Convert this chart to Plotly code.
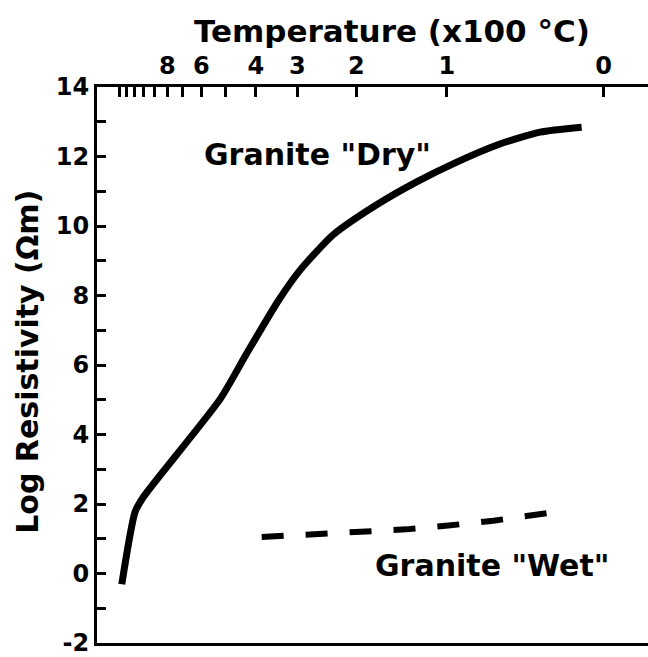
import plotly.graph_objects as go

# Curves; x is inverse temperature 1000/T (T in kelvin)
dry_inv_t = [0.647, 0.730, 0.782, 1.261, 1.428, 1.626, 1.762, 1.970, 2.241, 2.491, 2.742, 3.012, 3.263, 3.523]
dry_log_rho = [-0.31, 1.77, 2.20, 5.01, 6.33, 7.85, 8.73, 9.75, 10.61, 11.27, 11.84, 12.36, 12.70, 12.84]

wet_inv_t = [1.522, 1.862, 2.143, 2.425, 2.690, 2.972, 3.313]
wet_log_rho = [1.05, 1.14, 1.18, 1.27, 1.38, 1.52, 1.74]

# top axis: temperature in hundreds of degrees C
temp_ticks = [0, 1, 2, 3, 4, 5, 6, 7, 8, 9, 10, 11, 12, 13]
temp_labels = ["0", "1", "2", "3", "4", "", "6", "", "8", "", "", "", "", ""]

y_ticks = list(range(-2, 15))
y_labels = [str(v) if v % 2 == 0 else "" for v in y_ticks]

FONT = "DejaVu Sans"


def inv_temp(t_hundreds):
    return 1000.0 / (t_hundreds * 100 + 273.15)


fig = go.Figure()

fig.add_trace(
    go.Scatter(
        x=dry_inv_t,
        y=dry_log_rho,
        mode="lines",
        line=dict(color="black", width=7, shape="spline", smoothing=0.6),
        name='Granite "Dry"',
    )
)
fig.add_trace(
    go.Scatter(
        x=wet_inv_t,
        y=wet_log_rho,
        mode="lines",
        line=dict(color="black", width=6, dash="22px,22px"),
        name='Granite "Wet"',
    )
)

fig.update_layout(
    width=648,
    height=657,
    margin=dict(l=97, r=0, t=87, b=9),
    plot_bgcolor="white",
    paper_bgcolor="white",
    showlegend=False,
    font=dict(family=FONT, color="black"),
)

fig.update_xaxes(
    side="top",
    range=[0.492, 3.938],
    tickvals=[inv_temp(t) for t in temp_ticks],
    ticktext=temp_labels,
    ticks="inside",
    ticklen=10,
    tickwidth=3,
    tickcolor="black",
    tickfont=dict(family=FONT, size=24, weight="bold"),
    showline=True,
    linewidth=3,
    linecolor="black",
    mirror=True,
    showgrid=False,
    zeroline=False,
)
fig.update_yaxes(
    range=[-2, 14],
    tickvals=y_ticks,
    ticktext=y_labels,
    ticks="inside",
    ticklen=9,
    tickwidth=3,
    tickcolor="black",
    tickfont=dict(family=FONT, size=24, weight="bold"),
    ticklabeloverflow="allow",
    showline=True,
    linewidth=3,
    linecolor="black",
    showgrid=False,
    zeroline=False,
)

fig.add_annotation(
    text="Temperature (x100 °C)",
    xref="paper", yref="paper",
    x=0.535, y=1.1016,
    xanchor="center", yanchor="middle",
    showarrow=False,
    font=dict(family=FONT, size=31, weight="bold"),
)
fig.add_annotation(
    text="Log Resistivity (Ωm)",
    xref="paper", yref="paper",
    x=-0.125, y=0.506,
    xanchor="center", yanchor="middle",
    textangle=-90,
    showarrow=False,
    font=dict(family=FONT, size=30, weight="bold"),
)
fig.add_annotation(
    text='Granite "Dry"',
    x=1.868, y=12.05,
    xanchor="center", yanchor="middle",
    showarrow=False,
    font=dict(family=FONT, size=30, weight="bold"),
)
fig.add_annotation(
    text='Granite "Wet"',
    x=2.961, y=0.23,
    xanchor="center", yanchor="middle",
    showarrow=False,
    font=dict(family=FONT, size=30, weight="bold"),
)

fig.write_html(
    "out.html",
    config={"displayModeBar": False},
    post_script="document.body.style.margin='0';",
)
